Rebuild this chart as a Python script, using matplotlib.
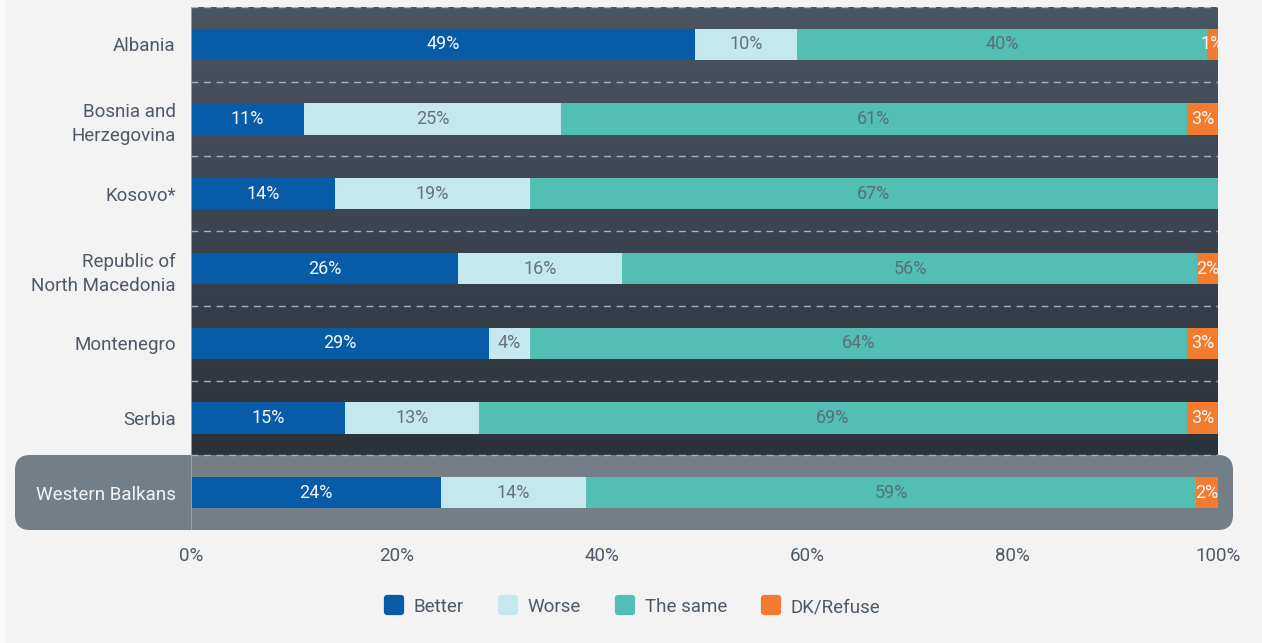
import matplotlib
matplotlib.use("Agg")
import matplotlib.pyplot as plt
import numpy as np
from matplotlib.colors import LinearSegmentedColormap
from matplotlib.patches import FancyBboxPatch, Rectangle
from matplotlib.lines import Line2D
from matplotlib.markers import MarkerStyle
from matplotlib.transforms import IdentityTransform

plt.rcParams['font.family'] = ['Roboto', 'DejaVu Sans']

countries = ["Albania", "Bosnia and\nHerzegovina", "Kosovo*", "Republic of\nNorth Macedonia",
             "Montenegro", "Serbia", "Western Balkans"]
series = ["Better", "Worse", "The same", "DK/Refuse"]
better = [49.1, 11, 14, 26, 29, 15, 24.3]
worse = [9.9, 25, 19, 16, 4, 13, 14.2]
same = [39.9, 61, 67, 56, 64, 69, 59.4]
dk = [1.1, 3, 0, 2, 3, 3, 2.1]
xticks = [0, 20, 40, 60, 80, 100]

colors = ['#075ba7', '#c5e7ee', '#53beb4', '#f27b2f']
text_colors = ['#f4f7fb', '#66737f', '#587179', '#f7f7f7']
label_grey = '#4d5966'

W, H = 1262, 643
fig = plt.figure(figsize=(W / 100, H / 100), dpi=100)
fig.patch.set_facecolor('#f3f3f3')
fig.patches.append(Rectangle((0, 0), 6, H, transform=IdentityTransform(),
                             facecolor='#fafafa', edgecolor='none', zorder=-2))

# rounded highlight box behind the Western Balkans row
fig.patches.append(FancyBboxPatch((15, H - 530), 1233 - 15, 75,
                                  boxstyle="round,pad=0,rounding_size=15",
                                  transform=IdentityTransform(),
                                  facecolor='#737e87', edgecolor='none', zorder=-1))

ax = fig.add_axes([191 / W, 1 - 530 / H, (1218 - 191) / W, (530 - 7) / H])
ax.set_facecolor('none')

n = len(countries)
ax.set_xlim(0, 100)
ax.set_ylim(n - 0.5, -0.5)

# gradient background for the country rows
grad = LinearSegmentedColormap.from_list('bg', ['#4b5663', '#2b323b'])
ax.imshow(np.linspace(0, 1, 256).reshape(-1, 1), cmap=grad, aspect='auto',
          extent=[0, 100, n - 1.5, -0.5], zorder=0)

for y in np.arange(-0.5, n - 1, 1.0):
    ax.axhline(y, color='#a7afb7', lw=1, ls=(0, (5, 4)), zorder=1)
ax.axvline(0, color='#a3abb3', lw=1.2, zorder=3)

ypos = np.arange(n)
left = np.zeros(n)
for vals, col, tcol in zip([better, worse, same, dk], colors, text_colors):
    vals = np.array(vals)
    ax.barh(ypos, vals, left=left, height=0.42, color=col, zorder=2)
    for y, v, l in zip(ypos, vals, left):
        if v > 0:
            ax.text(l + v / 2, y, f"{round(v)}%", ha='center', va='center',
                    color=tcol, fontsize=13, zorder=4)
    left += vals

ax.set_yticks(ypos)
ax.set_yticklabels(countries, fontsize=13.5, color=label_grey, linespacing=1.45)
ax.get_yticklabels()[-1].set_color('#f4f5f6')
ax.set_xticks(xticks)
ax.set_xticklabels([f"{t}%" for t in xticks], fontsize=13.5, color=label_grey)
ax.tick_params(axis='both', length=0)
ax.tick_params(axis='y', pad=11)
ax.tick_params(axis='x', pad=12)
for s in ax.spines.values():
    s.set_visible(False)

handles = [Line2D([], [], marker=MarkerStyle('s', joinstyle='round'), markersize=10,
                  markeredgewidth=4.5, color=c, linestyle='none') for c in colors]
fig.legend(handles, series, loc='center', bbox_to_anchor=(632 / W, 1 - 607 / H),
           ncol=4, frameon=False, fontsize=13.5, labelcolor=label_grey,
           handletextpad=0.5, columnspacing=1.8, handlelength=1.1)

fig.savefig('out.png', dpi=100, facecolor=fig.get_facecolor())
